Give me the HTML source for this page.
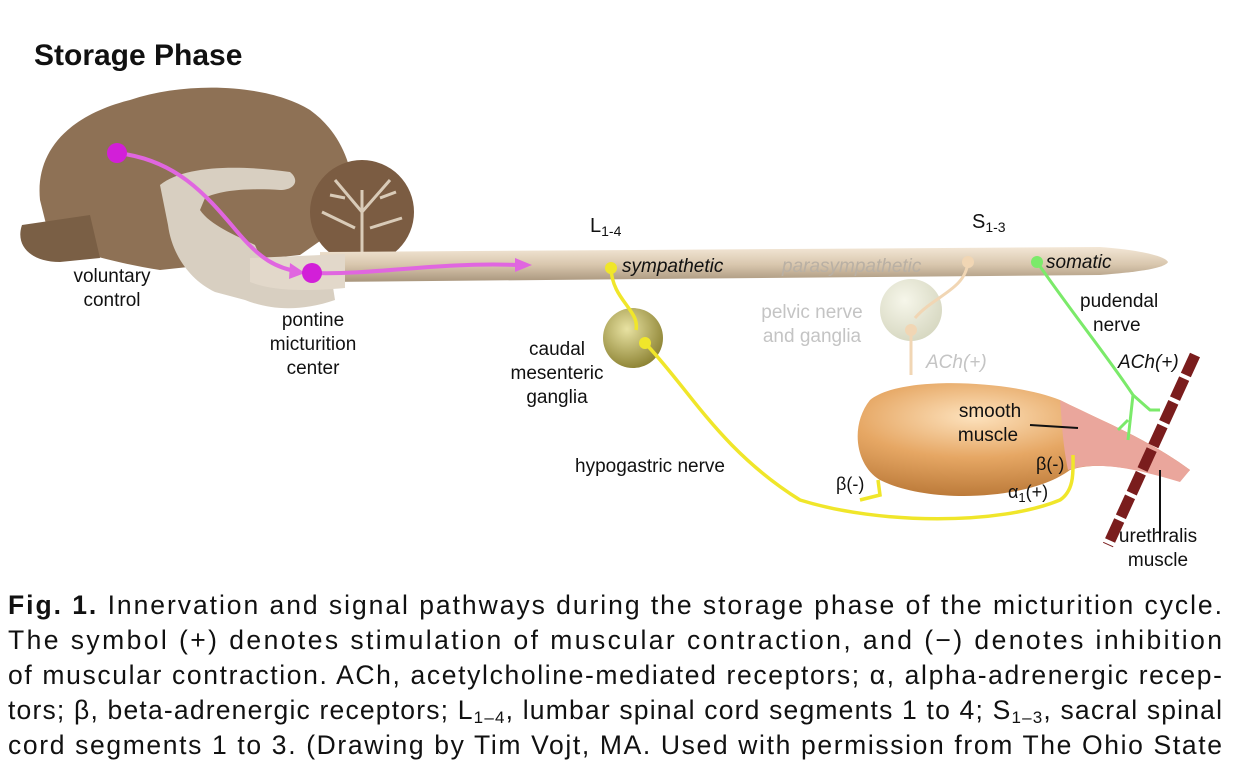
<!DOCTYPE html>
<html><head><meta charset="utf-8"><style>
html,body{margin:0;padding:0;background:#fff;}
svg{display:block;font-family:"Liberation Sans",sans-serif;}
</style></head><body>
<svg width="1236" height="768" viewBox="0 0 1236 768" xmlns="http://www.w3.org/2000/svg">
<defs>
<linearGradient id="cord" x1="0" y1="0" x2="0" y2="1">
<stop offset="0" stop-color="#f3e7d6"/><stop offset="0.5" stop-color="#d9c7ae"/><stop offset="1" stop-color="#a8957c"/>
</linearGradient>
<radialGradient id="blad" cx="0.35" cy="0.3" r="0.8">
<stop offset="0" stop-color="#fde2bd"/><stop offset="0.45" stop-color="#e6a764"/><stop offset="1" stop-color="#b06e2e"/>
</radialGradient>
<radialGradient id="gang" cx="0.4" cy="0.35" r="0.7">
<stop offset="0" stop-color="#e8e2a2"/><stop offset="1" stop-color="#8a8030"/>
</radialGradient>
<radialGradient id="gang2" cx="0.4" cy="0.35" r="0.7">
<stop offset="0" stop-color="#f6f6ea"/><stop offset="1" stop-color="#d6d7c0"/>
</radialGradient>
</defs>
<text x="34" y="65" font-size="30" font-weight="bold" fill="#111">Storage Phase</text>
<!-- brain -->
<path d="M40,200 C35,150 70,115 130,100 C190,80 270,85 310,110 C345,135 360,180 350,220 L300,255 L160,270 C110,262 70,250 50,240 Z" fill="#8e7155"/>
<path d="M22,225 C15,245 30,262 60,262 L100,258 L90,215 Z" fill="#7a5f45"/>
<path d="M160,185 C185,165 240,165 290,172 C300,180 295,190 280,190 C250,188 220,190 205,198 L200,210 C210,225 235,235 255,245 L265,268 C290,272 310,270 330,268 L335,300 C300,312 270,310 245,300 L215,292 C190,280 172,255 168,225 Z" fill="#d8cfc1"/>
<circle cx="362" cy="212" r="52" fill="#7b5c42"/>
<path d="M362,255 L362,190 M362,212 L335,180 M362,212 L390,180 M355,228 L322,212 M370,228 L402,218 M345,198 L330,195 M380,198 L396,192" stroke="#d9cbb8" stroke-width="3" fill="none"/>
<!-- cord -->
<path d="M320,252 L1100,247 C1140,250 1165,256 1168,262 C1165,268 1140,272 1100,275 L320,282 Z" fill="url(#cord)"/>
<path d="M250,258 L345,254 L345,288 C300,292 270,290 250,282 Z" fill="#e2d8ca"/>
<!-- magenta -->
<path d="M117,153 C180,160 210,200 240,235 C260,258 275,268 300,272" stroke="#e066e0" stroke-width="4" fill="none"/>
<polygon points="290,263 305,273 289,279" fill="#e066e0"/>
<path d="M312,273 C380,275 430,262 520,265" stroke="#e066e0" stroke-width="4" fill="none"/>
<polygon points="515,258 532,265 515,272" fill="#e066e0"/>
<circle cx="117" cy="153" r="10" fill="#d21fd8"/>
<circle cx="312" cy="273" r="10" fill="#d21fd8"/>
<!-- labels brain -->
<text font-size="19" fill="#111" text-anchor="middle"><tspan x="112" y="282">voluntary</tspan><tspan x="112" y="306">control</tspan></text>
<text font-size="19" fill="#111" text-anchor="middle"><tspan x="313" y="326">pontine</tspan><tspan x="313" y="350">micturition</tspan><tspan x="313" y="374">center</tspan></text>
<text x="590" y="232" font-size="20" fill="#111">L<tspan font-size="14" dy="4">1-4</tspan></text>
<text x="972" y="228" font-size="20" fill="#111">S<tspan font-size="14" dy="4">1-3</tspan></text>
<!-- pelvic (faded) -->
<circle cx="911" cy="310" r="31" fill="url(#gang2)"/>
<path d="M968,262 C965,290 935,295 915,318 M911,330 L911,375" stroke="#f1d6b4" stroke-width="3" fill="none"/>
<circle cx="968" cy="262" r="6" fill="#f1d6b4"/><circle cx="911" cy="330" r="6" fill="#f1d6b4"/>
<text font-size="19" fill="#c4c4c4" text-anchor="middle"><tspan x="812" y="318">pelvic nerve</tspan><tspan x="812" y="342">and ganglia</tspan></text>
<text x="926" y="368" font-size="19" font-style="italic" fill="#c4c4c4">ACh(+)</text>
<text x="782" y="272" font-size="19" font-style="italic" fill="#b9b0a4">parasympathetic</text>
<!-- caudal ganglion -->
<circle cx="633" cy="338" r="30" fill="url(#gang)"/>
<text font-size="19" fill="#111" text-anchor="middle"><tspan x="557" y="355">caudal</tspan><tspan x="557" y="379">mesenteric</tspan><tspan x="557" y="403">ganglia</tspan></text>
<!-- bladder -->
<path d="M870,400 C900,375 1010,380 1060,400 C1100,420 1150,440 1190,470 L1180,480 C1140,470 1100,460 1070,470 C1030,500 930,505 880,480 C855,465 850,425 870,400 Z" fill="url(#blad)"/>
<path d="M1060,400 C1100,420 1150,440 1190,470 L1180,482 C1140,470 1100,460 1068,470 C1062,440 1062,420 1060,400 Z" fill="#eaa69c"/>
<line x1="1030" y1="425" x2="1078" y2="428" stroke="#111" stroke-width="2"/>
<text font-size="19" fill="#111" text-anchor="middle"><tspan x="990" y="417">smooth</tspan><tspan x="988" y="441">muscle</tspan></text>
<!-- urethralis -->
<line x1="1195" y1="355" x2="1108" y2="545" stroke="#7a1d1d" stroke-width="11" stroke-dasharray="22,4"/>
<line x1="1160" y1="470" x2="1160" y2="540" stroke="#111" stroke-width="2"/>
<text font-size="19" fill="#111" text-anchor="middle"><tspan x="1158" y="542">urethralis</tspan><tspan x="1158" y="566">muscle</tspan></text>
<!-- yellow -->
<path d="M611,268 C612,300 640,310 636,330 M645,343 C690,390 720,450 800,500 C880,525 1000,525 1060,500 C1075,490 1073,470 1073,455 M878,480 L880,495 L860,500" stroke="#f0e62a" stroke-width="3.5" fill="none"/>
<circle cx="611" cy="268" r="6" fill="#f0e62a"/><circle cx="645" cy="343" r="6" fill="#f0e62a"/>
<text x="622" y="272" font-size="19" font-style="italic" fill="#111">sympathetic</text>
<text x="575" y="472" font-size="19" fill="#111">hypogastric nerve</text>
<text x="836" y="490" font-size="18" fill="#111">β(-)</text>
<text x="1036" y="470" font-size="18" fill="#111">β(-)</text>
<text x="1008" y="498" font-size="18" fill="#111">α<tspan font-size="13" dy="4">1</tspan><tspan dy="-4">(+)</tspan></text>
<!-- green -->
<path d="M1037,262 C1070,310 1110,360 1133,395 L1128,440 M1133,395 L1150,410 L1160,410 M1128,420 L1118,430" stroke="#7bea6a" stroke-width="3" fill="none"/>
<circle cx="1037" cy="262" r="6" fill="#7bea6a"/>
<text x="1046" y="268" font-size="19" font-style="italic" fill="#111">somatic</text>
<text font-size="19" fill="#111"><tspan x="1080" y="307">pudendal</tspan><tspan x="1093" y="331">nerve</tspan></text>
<text x="1118" y="368" font-size="19" font-style="italic" fill="#111">ACh(+)</text>
<!-- caption -->
<g font-size="26.5" fill="#111">
<text x="8" y="614" textLength="1214" lengthAdjust="spacing"><tspan font-weight="bold">Fig. 1.</tspan> Innervation and signal pathways during the storage phase of the micturition cycle.</text>
<text x="8" y="649" textLength="1214" lengthAdjust="spacing">The symbol (+) denotes stimulation of muscular contraction, and (−) denotes inhibition</text>
<text x="8" y="684" textLength="1214" lengthAdjust="spacing">of muscular contraction. ACh, acetylcholine-mediated receptors; α, alpha-adrenergic recep-</text>
<text x="8" y="719" textLength="1214" lengthAdjust="spacing">tors; β, beta-adrenergic receptors; L<tspan font-size="17" dy="4">1–4</tspan><tspan dy="-4">, lumbar spinal cord segments 1 to 4; S</tspan><tspan font-size="17" dy="4">1–3</tspan><tspan dy="-4">, sacral spinal</tspan></text>
<text x="8" y="754" textLength="1214" lengthAdjust="spacing">cord segments 1 to 3. (Drawing by Tim Vojt, MA. Used with permission from The Ohio State</text>
</g>
</svg>
</body></html>
